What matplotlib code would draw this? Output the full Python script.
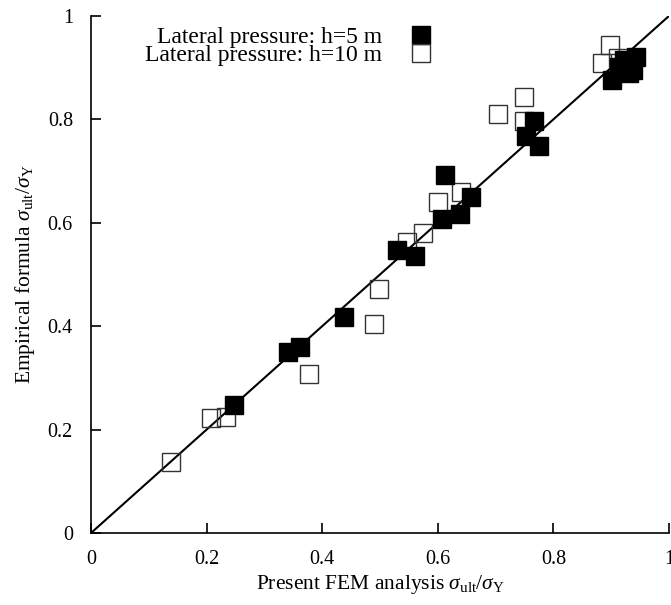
import matplotlib
matplotlib.use("Agg")
import matplotlib.pyplot as plt
import numpy as np

plt.rcParams['font.family'] = ['Liberation Serif', 'DejaVu Serif']
plt.rcParams['mathtext.fontset'] = 'custom'
plt.rcParams['mathtext.rm'] = 'Liberation Serif'
plt.rcParams['mathtext.it'] = 'Liberation Serif:italic'

# lateral pressure h=5 m (filled squares)
fem_h5 = [0.248, 0.341, 0.362, 0.437, 0.530, 0.560, 0.608, 0.638, 0.657, 0.613,
          0.766, 0.752, 0.775, 0.901, 0.913, 0.931, 0.943, 0.922, 0.937]
emp_h5 = [0.248, 0.350, 0.360, 0.418, 0.547, 0.536, 0.607, 0.617, 0.650, 0.692,
          0.797, 0.768, 0.749, 0.876, 0.901, 0.890, 0.921, 0.915, 0.895]

# lateral pressure h=10 m (open squares)
fem_h10 = [0.139, 0.208, 0.234, 0.378, 0.490, 0.499, 0.546, 0.574, 0.600, 0.641,
           0.705, 0.749, 0.749, 0.898, 0.884, 0.911]
emp_h10 = [0.137, 0.222, 0.225, 0.308, 0.404, 0.472, 0.563, 0.580, 0.640, 0.660,
           0.810, 0.843, 0.797, 0.944, 0.909, 0.919]

ticks = [0, 0.2, 0.4, 0.6, 0.8, 1]
tick_labels = ["0", "0.2", "0.4", "0.6", "0.8", "1"]

fig = plt.figure(figsize=(6.71, 6.05), dpi=100)
ax = fig.add_axes([0.1356, 0.119, 0.8614, 0.8546])

ax.plot([0, 1], [0, 1], color='black', lw=1.5, zorder=1)
ax.plot(fem_h10, emp_h10, ls='none', marker='s', ms=13, mfc='none',
        mec='#333333', mew=1.0, label='Lateral pressure: h=10 m', zorder=2)
ax.plot(fem_h5, emp_h5, ls='none', marker='s', ms=13, mfc='black',
        mec='black', mew=1.0, label='Lateral pressure: h=5 m', zorder=3)

ax.set_xlim(0, 1)
ax.set_ylim(0, 1)
ax.set_xticks(ticks)
ax.set_xticklabels(tick_labels)
ax.set_yticks(ticks)
ax.set_yticklabels(tick_labels)
ax.tick_params(direction='in', length=7, width=1.2, labelsize=14.5)
ax.tick_params(axis='y', pad=13)
ax.tick_params(axis='x', pad=12)
for s in ['top', 'right']:
    ax.spines[s].set_visible(False)
for s in ['left', 'bottom']:
    ax.spines[s].set_linewidth(1.2)

ax.set_xlabel(r'Present FEM analysis $\sigma_{\rm ult}/\sigma_{\rm Y}$', fontsize=15.5, labelpad=3)
ax.set_ylabel(r'Empirical formula $\sigma_{\rm ult}/\sigma_{\rm Y}$', fontsize=15.5, labelpad=8)

h, l = ax.get_legend_handles_labels()
ax.legend(h[::-1], l[::-1], loc='upper left', bbox_to_anchor=(0.077, 0.998),
          frameon=False, markerfirst=False, fontsize=17, labelspacing=-0.13,
          handletextpad=1.25, handlelength=0.8, borderaxespad=0.0)

fig.savefig("out.png", dpi=100)
